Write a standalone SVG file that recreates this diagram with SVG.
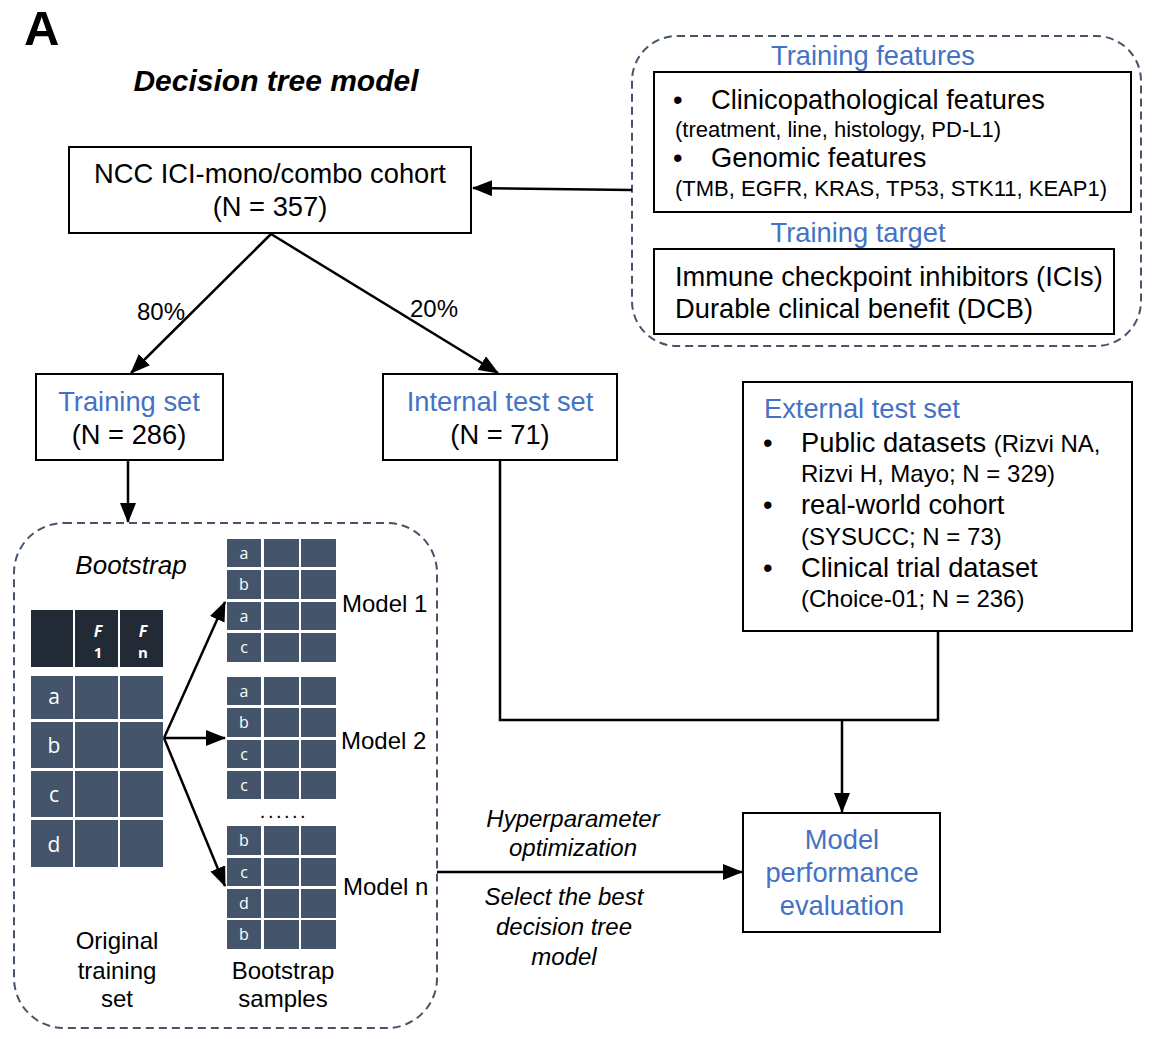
<svg xmlns="http://www.w3.org/2000/svg" width="1154" height="1039" viewBox="0 0 1154 1039">
<defs>
<marker id="ah" markerUnits="userSpaceOnUse" markerWidth="20" markerHeight="16" refX="19" refY="8" orient="auto"><path d="M0,0 L20,8 L0,16 z" fill="#000"/></marker>
<style>
text{font-family:"Liberation Sans",Arial,sans-serif;fill:#000}
.t27{font-size:27.3px}
.t24{font-size:24px}
.t22{font-size:22px}
.blue{fill:#4472C4}
.mid{text-anchor:middle}
.it{font-style:italic}
.box{fill:#fff;stroke:#000;stroke-width:2}
.dash{fill:none;stroke:#44546A;stroke-width:2;stroke-dasharray:8 5}
.hd{fill:#222A35}
.cl{fill:#44546A}
.cw{font-family:"Open Sans","Liberation Sans",sans-serif;fill:#fff;text-anchor:middle}
.conn{fill:none;stroke:#000;stroke-width:2.5}
</style>
</defs>
<rect width="1154" height="1039" fill="#fff"/>
<text x="24" y="45" style="font-size:49px;font-weight:bold">A</text>
<text x="276" y="91" class="mid it" style="font-size:30px;font-weight:bold">Decision tree model</text>

<g id="ncc">
<rect class="box" x="69" y="147" width="402" height="86"/>
<text x="270" y="183" class="t27 mid">NCC ICI-mono/combo cohort</text>
<text x="270" y="216" class="t27 mid">(N = 357)</text>
</g>

<g id="training-info">
<rect class="dash" x="632" y="36" width="509" height="310" rx="45"/>
<text x="873" y="65" class="t27 mid blue">Training features</text>
<rect class="box" x="654" y="72" width="477" height="140"/>
<text x="673" y="109" class="t27">•</text>
<text x="711" y="109" class="t27">Clinicopathological features</text>
<text x="675" y="137" class="t22">(treatment, line, histology, PD-L1)</text>
<text x="673" y="167" class="t27">•</text>
<text x="711" y="167" class="t27">Genomic features</text>
<text x="675" y="196" class="t22">(TMB, EGFR, KRAS, TP53, STK11, KEAP1)</text>
<text x="858" y="242" class="t27 mid blue">Training target</text>
<rect class="box" x="654" y="249" width="460" height="85"/>
<text x="675" y="286" class="t27">Immune checkpoint inhibitors (ICIs)</text>
<text x="675" y="318" class="t27">Durable clinical benefit (DCB)</text>
</g>

<g id="training-set">
<rect class="box" x="36" y="374" width="187" height="86"/>
<text x="129" y="411" class="t27 mid blue">Training set</text>
<text x="129" y="444" class="t27 mid">(N = 286)</text>
</g>

<g id="internal-test">
<rect class="box" x="383" y="374" width="234" height="86"/>
<text x="500" y="411" class="t27 mid blue">Internal test set</text>
<text x="500" y="444" class="t27 mid">(N = 71)</text>
</g>

<g id="external-test">
<rect class="box" x="743" y="382" width="389" height="249"/>
<text x="764" y="418" class="t27 blue">External test set</text>
<text x="763" y="452" class="t27">•</text>
<text x="801" y="452" class="t27">Public datasets <tspan class="t24">(Rizvi NA,</tspan></text>
<text x="801" y="482" class="t24">Rizvi H, Mayo; N = 329)</text>
<text x="763" y="514" class="t27">•</text>
<text x="801" y="514" class="t27">real-world cohort</text>
<text x="801" y="545" class="t24">(SYSUCC; N = 73)</text>
<text x="763" y="577" class="t27">•</text>
<text x="801" y="577" class="t27">Clinical trial dataset</text>
<text x="801" y="607" class="t24">(Choice-01; N = 236)</text>
</g>

<g id="model-eval">
<rect class="box" x="743" y="813" width="197" height="119"/>
<text x="842" y="849" class="t27 mid blue">Model</text>
<text x="842" y="882" class="t27 mid blue">performance</text>
<text x="842" y="915" class="t27 mid blue">evaluation</text>
</g>

<g id="bootstrap">
<rect class="dash" x="14" y="523" width="423" height="505" rx="50"/>
<text x="131" y="574" class="mid it" style="font-size:26px">Bootstrap</text>
<g id="original-table">
<rect class="hd" x="31" y="610" width="42" height="57"/>
<rect class="hd" x="75" y="610" width="43" height="57"/>
<rect class="hd" x="120" y="610" width="43" height="57"/>
<text x="98" y="637" class="cw" style="font-size:16px;font-weight:bold;font-style:italic">F</text>
<text x="98" y="658" class="cw" style="font-size:15px;font-weight:bold">1</text>
<text x="143" y="637" class="cw" style="font-size:16px;font-weight:bold;font-style:italic">F</text>
<text x="143" y="658" class="cw" style="font-size:15px;font-weight:bold">n</text>
<g>
<rect class="cl" x="31" y="676" width="42" height="43"/><rect class="cl" x="75" y="676" width="43" height="43"/><rect class="cl" x="120" y="676" width="43" height="43"/>
<rect class="cl" x="31" y="722" width="42" height="46"/><rect class="cl" x="75" y="722" width="43" height="46"/><rect class="cl" x="120" y="722" width="43" height="46"/>
<rect class="cl" x="31" y="771" width="42" height="46"/><rect class="cl" x="75" y="771" width="43" height="46"/><rect class="cl" x="120" y="771" width="43" height="46"/>
<rect class="cl" x="31" y="820" width="42" height="47"/><rect class="cl" x="75" y="820" width="43" height="47"/><rect class="cl" x="120" y="820" width="43" height="47"/>
</g>
<text x="54" y="704" class="cw" style="font-size:21px">a</text>
<text x="54" y="753" class="cw" style="font-size:21px">b</text>
<text x="54" y="802" class="cw" style="font-size:21px">c</text>
<text x="54" y="852" class="cw" style="font-size:21px">d</text>
</g>
<g id="sample1">
<rect class="cl" x="227" y="539" width="34" height="28"/><rect class="cl" x="264" y="539" width="35" height="28"/><rect class="cl" x="301" y="539" width="35" height="28"/>
<rect class="cl" x="227" y="570" width="34" height="29"/><rect class="cl" x="264" y="570" width="35" height="29"/><rect class="cl" x="301" y="570" width="35" height="29"/>
<rect class="cl" x="227" y="602" width="34" height="28"/><rect class="cl" x="264" y="602" width="35" height="28"/><rect class="cl" x="301" y="602" width="35" height="28"/>
<rect class="cl" x="227" y="633" width="34" height="29"/><rect class="cl" x="264" y="633" width="35" height="29"/><rect class="cl" x="301" y="633" width="35" height="29"/>
<text x="244" y="559" class="cw" style="font-size:16px">a</text>
<text x="244" y="590" class="cw" style="font-size:16px">b</text>
<text x="244" y="622" class="cw" style="font-size:16px">a</text>
<text x="244" y="653" class="cw" style="font-size:16px">c</text>
<text x="342" y="612" class="t24">Model 1</text>
</g>
<g id="sample2">
<rect class="cl" x="227" y="677" width="34" height="28"/><rect class="cl" x="264" y="677" width="35" height="28"/><rect class="cl" x="301" y="677" width="35" height="28"/>
<rect class="cl" x="227" y="708" width="34" height="29"/><rect class="cl" x="264" y="708" width="35" height="29"/><rect class="cl" x="301" y="708" width="35" height="29"/>
<rect class="cl" x="227" y="740" width="34" height="28"/><rect class="cl" x="264" y="740" width="35" height="28"/><rect class="cl" x="301" y="740" width="35" height="28"/>
<rect class="cl" x="227" y="771" width="34" height="28"/><rect class="cl" x="264" y="771" width="35" height="28"/><rect class="cl" x="301" y="771" width="35" height="28"/>
<text x="244" y="697" class="cw" style="font-size:16px">a</text>
<text x="244" y="728" class="cw" style="font-size:16px">b</text>
<text x="244" y="760" class="cw" style="font-size:16px">c</text>
<text x="244" y="791" class="cw" style="font-size:16px">c</text>
<text x="341" y="749" class="t24">Model 2</text>
</g>
<text x="284" y="818" class="mid" style="font-size:20px;letter-spacing:2.5px">......</text>
<g id="sample-n">
<rect class="cl" x="227" y="826" width="34" height="29"/><rect class="cl" x="264" y="826" width="35" height="29"/><rect class="cl" x="301" y="826" width="35" height="29"/>
<rect class="cl" x="227" y="858" width="34" height="28"/><rect class="cl" x="264" y="858" width="35" height="28"/><rect class="cl" x="301" y="858" width="35" height="28"/>
<rect class="cl" x="227" y="889" width="34" height="29"/><rect class="cl" x="264" y="889" width="35" height="29"/><rect class="cl" x="301" y="889" width="35" height="29"/>
<rect class="cl" x="227" y="920" width="34" height="29"/><rect class="cl" x="264" y="920" width="35" height="29"/><rect class="cl" x="301" y="920" width="35" height="29"/>
<text x="244" y="846" class="cw" style="font-size:16px">b</text>
<text x="244" y="878" class="cw" style="font-size:16px">c</text>
<text x="244" y="909" class="cw" style="font-size:16px">d</text>
<text x="244" y="940" class="cw" style="font-size:16px">b</text>
<text x="343" y="895" class="t24">Model n</text>
</g>
<text x="117" y="949" class="t24 mid">Original</text>
<text x="117" y="979" class="t24 mid">training</text>
<text x="117" y="1007" class="t24 mid">set</text>
<text x="283" y="979" class="t24 mid">Bootstrap</text>
<text x="283" y="1007" class="t24 mid">samples</text>
</g>

<g id="connectors">
<line class="conn" x1="632" y1="190" x2="473" y2="188" marker-end="url(#ah)"/>
<line class="conn" x1="271" y1="234" x2="131" y2="373" marker-end="url(#ah)"/>
<line class="conn" x1="271" y1="234" x2="498" y2="373" marker-end="url(#ah)"/>
<line class="conn" x1="128" y1="460" x2="128" y2="522" marker-end="url(#ah)"/>
<polyline class="conn" points="500,460 500,720 938,720 938,631"/>
<line class="conn" x1="842" y1="720" x2="842" y2="812" marker-end="url(#ah)"/>
<line class="conn" x1="437" y1="872" x2="742" y2="872" marker-end="url(#ah)"/>
<line class="conn" x1="164" y1="738" x2="225" y2="602" marker-end="url(#ah)"/>
<line class="conn" x1="164" y1="738" x2="225" y2="738" marker-end="url(#ah)"/>
<line class="conn" x1="164" y1="738" x2="225" y2="886" marker-end="url(#ah)"/>
<text x="161" y="320" class="t24 mid">80%</text>
<text x="434" y="317" class="t24 mid">20%</text>
<text x="573" y="827" class="t24 mid it">Hyperparameter</text>
<text x="573" y="856" class="t24 mid it">optimization</text>
<text x="564" y="905" class="t24 mid it">Select the best</text>
<text x="564" y="935" class="t24 mid it">decision tree</text>
<text x="564" y="965" class="t24 mid it">model</text>
</g>
</svg>
